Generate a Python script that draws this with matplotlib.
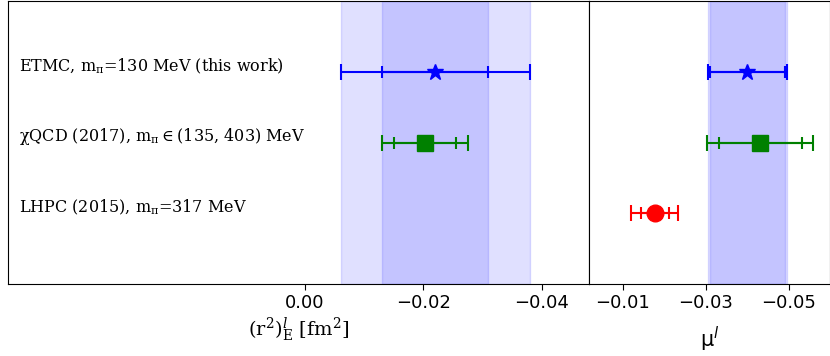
import matplotlib
matplotlib.use("Agg")
import matplotlib.pyplot as plt

# collaborations, top to bottom
labels = [r"ETMC, m$_\mathrm{\pi}$=130 MeV (this work)",
          "χQCD (2017), m$_\\mathrm{\\pi}$\u2009∈\u2009(135, 403) MeV",
          r"LHPC (2015), m$_\mathrm{\pi}$=317 MeV"]
ypos = [3, 2, 1]
colors = ["blue", "green", "red"]
markers = ["*", "s", "o"]

# charge radius (r^2)_E  [fm^2]; LHPC has none
r2_val = [-0.022, -0.0203, None]
r2_stat = [0.009, 0.0053, None]
r2_tot = [0.016, 0.0073, None]

# magnetic moment mu
mu_val = [-0.040, -0.0431, -0.0177]
mu_stat = [0.0090, 0.0100, 0.0034]
mu_tot = [0.0095, 0.0128, 0.0057]

fig = plt.figure(figsize=(8.3, 3.56), dpi=100)
W, H = 830, 356
ax1 = fig.add_axes([8 / W, 72 / H, 581 / W, 283 / H])
ax2 = fig.add_axes([589 / W, 72 / H, 240.5 / W, 283 / H])

msizes = {"*": 12, "s": 12, "o": 12}

def draw_panel(ax, vals, stats, tots):
    # bands from this work (first entry)
    c, s, t = vals[0], stats[0], tots[0]
    ax.axvspan(c - t, c + t, color="blue", alpha=0.12, zorder=0)
    ax.axvspan(c - s, c + s, color="blue", alpha=0.12, zorder=0)
    for v, s, t, y, col, m in zip(vals, stats, tots, ypos, colors, markers):
        if v is None:
            continue
        ax.errorbar(v, y, xerr=t, fmt="none", ecolor=col, elinewidth=1.5,
                    capsize=6, capthick=1.5, zorder=2)
        ax.errorbar(v, y, xerr=s, fmt="none", ecolor=col, elinewidth=1.5,
                    capsize=4, capthick=1.5, zorder=2)
        ax.plot(v, y, marker=m, color=col, markersize=msizes[m],
                linestyle="none", zorder=3)
    ax.set_ylim(0, 4)
    ax.set_yticks([])
    ax.tick_params(axis="x", labelsize=13, length=4, direction="out")

draw_panel(ax1, r2_val, r2_stat, r2_tot)
draw_panel(ax2, mu_val, mu_stat, mu_tot)

ax1.set_xlim(0.0502, -0.048)
ax1.set_xticks([0.0, -0.02, -0.04])
ax1.set_xticklabels(["0.00", "\u22120.02", "\u22120.04"])
ax2.set_xlim(-0.0019, -0.0598)
ax2.set_xticks([-0.01, -0.03, -0.05])
ax2.set_xticklabels(["\u22120.01", "\u22120.03", "\u22120.05"])

for lab, y in zip(labels, ypos):
    ax1.text(0.0483, y + 0.08, lab, family="DejaVu Serif", fontsize=11.5,
             math_fontfamily="dejavuserif", ha="left", va="center")

ax1.set_xlabel(r"(r$^2$)$^l_\mathrm{E}$ [fm$^2$]", family="DejaVu Serif",
               fontsize=14, math_fontfamily="dejavuserif", labelpad=2)
ax2.set_xlabel(r"μ$^{l}$", fontsize=15, labelpad=9)

fig.savefig("out.png", dpi=100)
